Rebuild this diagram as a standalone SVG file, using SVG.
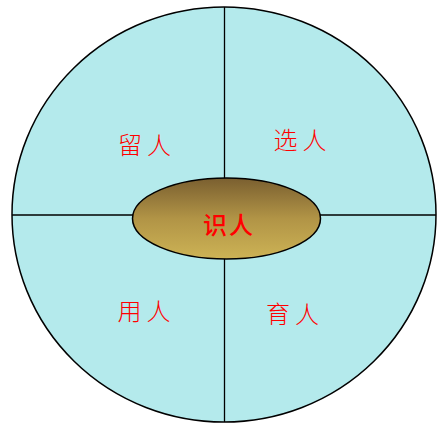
<svg xmlns="http://www.w3.org/2000/svg" width="448" height="432" viewBox="0 0 448 432">
<style>
.lbl{font-family:"Noto Sans CJK SC","Noto Sans CJK JP",sans-serif;font-size:24px;font-weight:300;fill:#ff0000;text-anchor:middle;letter-spacing:5px}
.ctr{font-family:"Noto Sans CJK SC","Noto Sans CJK JP",sans-serif;font-size:24px;font-weight:500;fill:#ff0000;text-anchor:middle;letter-spacing:2px}
.ln{stroke:#000;stroke-width:1.3;fill:none}
</style>
<defs>
<linearGradient id="g" x1="0" y1="0" x2="0" y2="1">
<stop offset="0" stop-color="#7a5f30"/>
<stop offset="0.5" stop-color="#b19446"/>
<stop offset="1" stop-color="#cdb355"/>
</linearGradient>
</defs>
<g id="outer">
<ellipse cx="224" cy="214.5" rx="212" ry="207.5" fill="#b4eaec" stroke="#000" stroke-width="1.5"/>
</g>
<g id="connectors">
<line class="ln" x1="224.5" y1="7" x2="224.5" y2="422"/>
<line class="ln" x1="12" y1="215" x2="436" y2="215"/>
</g>
<g id="center">
<ellipse cx="226.5" cy="218.5" rx="94" ry="40.5" fill="url(#g)" stroke="#000" stroke-width="1.5"/>
<text class="ctr" x="229" y="234">识人</text>
</g>
<g id="liuren"><text class="lbl" x="147" y="154">留人</text></g>
<g id="xuanren"><text class="lbl" x="302.5" y="149">选人</text></g>
<g id="yongren"><text class="lbl" x="146.5" y="320">用人</text></g>
<g id="yuren"><text class="lbl" x="295" y="323">育人</text></g>
</svg>
